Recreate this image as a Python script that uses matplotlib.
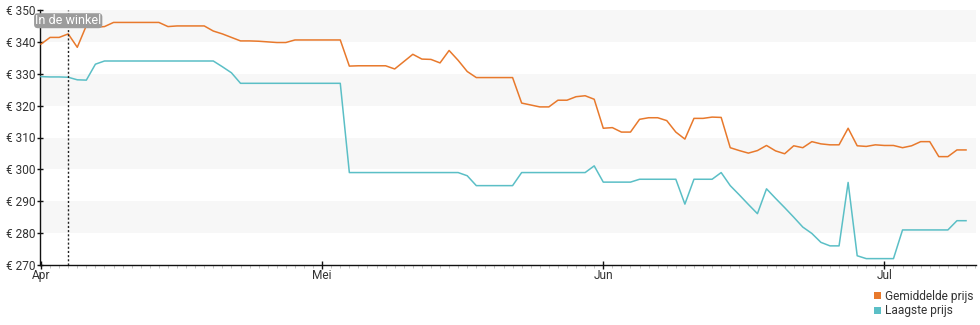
import matplotlib
matplotlib.use("Agg")
import matplotlib.pyplot as plt
from matplotlib.patches import Patch
from matplotlib.ticker import FixedLocator, MultipleLocator

# ---- data ----
gemiddelde = [339.3, 341.4, 341.4, 342.5, 338.3, 345.1, 344.6, 344.8, 346.1, 346.1,
              346.1, 346.1, 346.1, 346.1, 344.8, 345.0, 345.0, 345.0, 345.0, 343.4,
              342.5, 341.4, 340.3, 340.3, 340.2, 340.0, 339.8, 339.8, 340.6, 340.6,
              340.6, 340.6, 340.6, 340.6, 332.4, 332.5, 332.5, 332.5, 332.5, 331.5,
              333.8, 336.1, 334.6, 334.5, 333.4, 337.3, 334.2, 330.7, 328.8, 328.8,
              328.8, 328.8, 328.8, 320.8, 320.2, 319.6, 319.6, 321.7, 321.7, 322.8,
              323.1, 322.0, 312.9, 313.1, 311.7, 311.7, 315.7, 316.2, 316.2, 315.3,
              311.7, 309.5, 316.0, 316.0, 316.4, 316.3, 306.8, 305.9, 305.1, 305.9,
              307.5, 305.8, 304.9, 307.4, 306.8, 308.7, 308.0, 307.7, 307.7, 312.9,
              307.4, 307.2, 307.7, 307.5, 307.5, 306.8, 307.4, 308.7, 308.7, 304.0,
              304.0, 306.1, 306.1]
laagste = [329.1, 329.0, 329.0, 328.9, 328.1, 328.0, 333.0, 334.0, 334.0, 334.0,
           334.0, 334.0, 334.0, 334.0, 334.0, 334.0, 334.0, 334.0, 334.0, 334.0,
           332.2, 330.3, 327.0, 327.0, 327.0, 327.0, 327.0, 327.0, 327.0, 327.0,
           327.0, 327.0, 327.0, 327.0, 299.0, 299.0, 299.0, 299.0, 299.0, 299.0,
           299.0, 299.0, 299.0, 299.0, 299.0, 299.0, 299.0, 298.0, 294.9, 294.9,
           294.9, 294.9, 294.9, 299.0, 299.0, 299.0, 299.0, 299.0, 299.0, 299.0,
           299.0, 301.1, 296.0, 296.0, 296.0, 296.0, 296.9, 296.9, 296.9, 296.9,
           296.9, 289.1, 296.9, 296.9, 296.9, 299.0, 294.9, 292.0, 289.0, 286.1,
           293.9, 290.9, 288.0, 285.0, 281.9, 279.9, 277.1, 276.0, 276.0, 295.9,
           272.9, 272.0, 272.0, 272.0, 272.0, 281.0, 281.0, 281.0, 281.0, 281.0,
           281.0, 283.9, 283.9]
days = list(range(len(gemiddelde)))
month_labels = ["Apr", "Mei", "Jun", "Jul"]
month_index = [0, 31, 62, 93]
in_winkel_index = 3
y_ticks = [270, 280, 290, 300, 310, 320, 330, 340, 350]
stripe_bands = [(280, 290), (300, 310), (320, 330), (340, 350)]
series_names = ["Gemiddelde prijs", "Laagste prijs"]

c_orange = "#e8792c"
c_teal = "#5bbfc6"
text_col = "#333333"

plt.rcParams["font.family"] = ["Roboto", "DejaVu Sans"]

fig = plt.figure(figsize=(9.8, 3.25), dpi=100)
ax = fig.add_axes([40 / 980, 60 / 325, 936 / 980, 255 / 325])

for lo, hi in stripe_bands:
    ax.axhspan(lo, hi, color="#f7f7f7", lw=0, zorder=0)

ax.plot(days, gemiddelde, color=c_orange, lw=1.1, zorder=3)
ax.plot(days, laagste, color=c_teal, lw=1.1, zorder=3)

ax.axvline(in_winkel_index, color="#222222", lw=1.0, ls=(0, (1.5, 1.5)), zorder=4)
ax.annotate("In de winkel", xy=(in_winkel_index, 0.958),
            xycoords=("data", "axes fraction"), ha="center", va="center",
            fontsize=9.0, color="white", annotation_clip=False, zorder=6,
            bbox=dict(boxstyle="round,pad=0.08,rounding_size=0.3",
                      fc="#9c9c9c", ec="none"))

ax.set_xlim(-0.11, 103.1)
ax.set_ylim(270, 350)

ax.set_yticks(y_ticks)
ax.set_yticklabels([f"€ {v}" for v in y_ticks])
ax.xaxis.set_major_locator(FixedLocator(month_index))
ax.set_xticklabels(month_labels)
ax.xaxis.set_minor_locator(MultipleLocator(1))

for s in ["top", "right"]:
    ax.spines[s].set_visible(False)
for s in ["left", "bottom"]:
    ax.spines[s].set_color("#111111")
    ax.spines[s].set_linewidth(1.0)

ax.tick_params(axis="y", direction="inout", length=5, width=1.0,
               color="#111111", labelsize=8.6, labelcolor=text_col, pad=1)
ax.tick_params(axis="x", which="major", direction="inout", length=6, width=1.0,
               color="#111111", labelsize=8.6, labelcolor=text_col, pad=0)
ax.tick_params(axis="x", which="minor", direction="out", length=2.5, width=0.6,
               color="#bbbbbb")

handles = [Patch(facecolor=c_orange, edgecolor="none"),
           Patch(facecolor=c_teal, edgecolor="none")]
fig.legend(handles, series_names, loc="upper right",
           bbox_to_anchor=(973 / 980, 1 - 290 / 325), frameon=False,
           fontsize=8.6, labelcolor=text_col, handlelength=0.55,
           handleheight=0.55, handletextpad=0.3, labelspacing=0.12,
           borderpad=0, borderaxespad=0)

fig.savefig("out.png", dpi=100)
